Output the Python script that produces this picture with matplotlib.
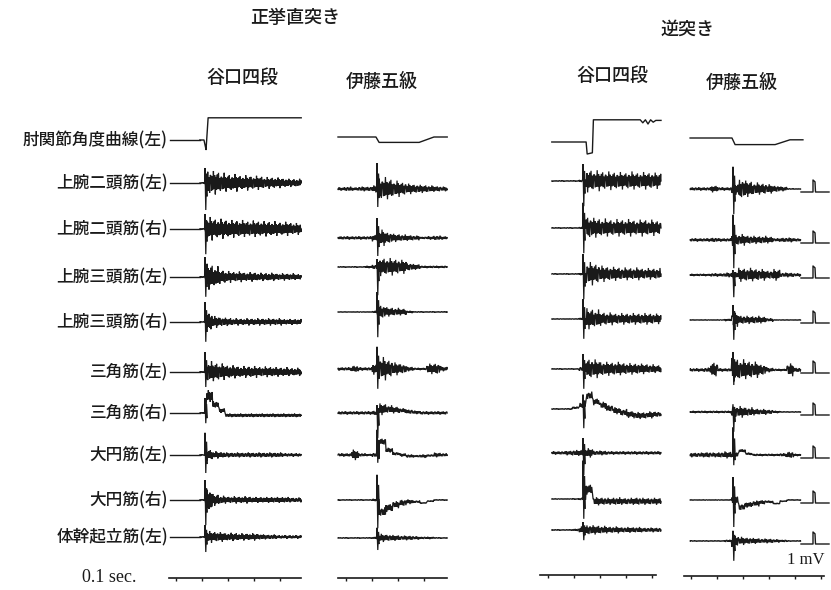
import numpy as np
import matplotlib.pyplot as plt

plt.rcParams['font.family'] = ['Noto Sans CJK JP', 'DejaVu Sans']

# ---- record contents ----
techniques = ['正挙直突き', '逆突き']
subjects = ['谷口四段', '伊藤五級', '谷口四段', '伊藤五級']
angle_label = '肘関節角度曲線(左)'
muscles = ['上腕二頭筋(左)', '上腕二頭筋(右)', '上腕三頭筋(左)', '上腕三頭筋(右)',
           '三角筋(左)', '三角筋(右)', '大円筋(左)', '大円筋(右)', '体幹起立筋(左)']
time_label = '0.1 sec.'
cal_label = '1 mV'

# record window per column, seconds relative to the punch onset
win_t0 = [-0.02, -0.15, -0.12, -0.165]
win_t1 = [0.37, 0.27, 0.30, 0.26]

# elbow angle curve, knots (s, arbitrary units)
angle_t = [
    [-0.02, -0.004, 0.0, 0.004, 0.012, 0.37],
    [-0.15, -0.004, 0.008, 0.162, 0.219, 0.27],
    [-0.12, 0.012, 0.016, 0.036, 0.040, 0.22, 0.23, 0.24, 0.25, 0.26, 0.27, 0.28, 0.30],
    [-0.165, -0.004, 0.008, 0.162, 0.219, 0.269],
]
angle_v = [
    [0, 0, -0.4, -0.8, 1.85, 1.85],
    [0, 0, -0.45, -0.45, 0, 0],
    [0, 0, -1.0, -0.9, 1.85, 1.85, 1.6, 1.85, 1.5, 1.85, 1.65, 1.8, 1.8],
    [0, 0, -0.55, -0.55, -0.15, -0.15],
]

# EMG envelope (mV), 16 equal bins across each record window, rows = muscles
env_tani_seiken = [
    [0.05, 1.1, 1.0, 0.85, 0.75, 0.75, 0.65, 0.65, 0.6, 0.6, 0.5, 0.5, 0.45, 0.4, 0.35, 0.35],
    [0.05, 1.0, 0.9, 0.85, 0.8, 0.75, 0.75, 0.7, 0.7, 0.7, 0.65, 0.65, 0.6, 0.6, 0.55, 0.5],
    [0.05, 1.1, 0.9, 0.6, 0.5, 0.45, 0.45, 0.4, 0.4, 0.35, 0.35, 0.35, 0.3, 0.3, 0.3, 0.25],
    [0.05, 0.8, 0.5, 0.4, 0.35, 0.3, 0.3, 0.3, 0.3, 0.3, 0.3, 0.3, 0.3, 0.25, 0.25, 0.25],
    [0.05, 0.9, 0.8, 0.7, 0.6, 0.55, 0.5, 0.5, 0.5, 0.45, 0.45, 0.45, 0.4, 0.4, 0.35, 0.35],
    [0.05, 0.5, 0.3, 0.2, 0.15, 0.15, 0.15, 0.15, 0.15, 0.15, 0.15, 0.15, 0.15, 0.15, 0.15, 0.15],
    [0.05, 0.45, 0.3, 0.25, 0.2, 0.2, 0.2, 0.2, 0.2, 0.2, 0.2, 0.2, 0.2, 0.15, 0.15, 0.15],
    [0.05, 1.0, 0.5, 0.35, 0.3, 0.3, 0.3, 0.3, 0.25, 0.25, 0.25, 0.25, 0.25, 0.25, 0.2, 0.2],
    [0.05, 0.5, 0.45, 0.4, 0.35, 0.35, 0.3, 0.3, 0.3, 0.25, 0.2, 0.2, 0.15, 0.15, 0.15, 0.15],
]
env_ito_seiken = [
    [0.15, 0.2, 0.15, 0.2, 0.2, 0.3, 1.0, 0.9, 0.7, 0.6, 0.45, 0.4, 0.35, 0.3, 0.25, 0.2],
    [0.15, 0.15, 0.15, 0.15, 0.15, 0.3, 0.7, 0.5, 0.35, 0.3, 0.25, 0.2, 0.1, 0.15, 0.2, 0.15],
    [0.05, 0.05, 0.05, 0.05, 0.1, 0.2, 0.8, 0.75, 0.7, 0.6, 0.35, 0.25, 0.1, 0.1, 0.1, 0.1],
    [0.03, 0.03, 0.03, 0.03, 0.03, 0.1, 0.6, 0.4, 0.35, 0.3, 0.1, 0.05, 0.05, 0.05, 0.05, 0.05],
    [0.15, 0.15, 0.3, 0.15, 0.15, 0.5, 1.0, 0.8, 0.55, 0.45, 0.2, 0.1, 0.1, 0.45, 0.5, 0.2],
    [0.15, 0.15, 0.15, 0.15, 0.15, 0.2, 0.5, 0.35, 0.3, 0.2, 0.2, 0.15, 0.15, 0.15, 0.15, 0.15],
    [0.15, 0.15, 0.45, 0.15, 0.1, 0.2, 0.3, 0.2, 0.15, 0.15, 0.15, 0.1, 0.15, 0.1, 0.2, 0.15],
    [0.05, 0.05, 0.05, 0.05, 0.05, 0.1, 0.4, 0.35, 0.3, 0.3, 0.2, 0.1, 0.05, 0.05, 0.05, 0.05],
    [0.05, 0.05, 0.05, 0.05, 0.05, 0.1, 0.35, 0.3, 0.25, 0.2, 0.2, 0.15, 0.1, 0.1, 0.05, 0.05],
]
env_tani_gyaku = [
    [0.05, 0.05, 0.05, 0.05, 0.1, 1.0, 0.9, 0.85, 0.8, 0.8, 0.75, 0.8, 0.75, 0.75, 0.75, 0.7],
    [0.05, 0.05, 0.05, 0.05, 0.1, 1.0, 0.85, 0.8, 0.75, 0.75, 0.75, 0.75, 0.7, 0.75, 0.7, 0.65],
    [0.05, 0.05, 0.05, 0.05, 0.1, 1.0, 0.9, 0.7, 0.65, 0.6, 0.55, 0.55, 0.55, 0.5, 0.5, 0.5],
    [0.03, 0.03, 0.03, 0.03, 0.1, 0.9, 0.8, 0.6, 0.55, 0.5, 0.5, 0.5, 0.5, 0.5, 0.5, 0.45],
    [0.05, 0.05, 0.05, 0.05, 0.2, 0.9, 0.8, 0.65, 0.6, 0.6, 0.55, 0.5, 0.5, 0.45, 0.4, 0.35],
    [0.05, 0.05, 0.05, 0.1, 0.2, 0.35, 0.3, 0.3, 0.3, 0.3, 0.3, 0.3, 0.3, 0.3, 0.3, 0.25],
    [0.15, 0.15, 0.2, 0.25, 0.3, 0.4, 0.2, 0.2, 0.15, 0.15, 0.15, 0.15, 0.15, 0.15, 0.15, 0.15],
    [0.03, 0.03, 0.03, 0.05, 0.1, 0.45, 0.35, 0.35, 0.3, 0.35, 0.3, 0.3, 0.35, 0.3, 0.3, 0.3],
    [0.05, 0.05, 0.05, 0.1, 0.3, 0.45, 0.4, 0.35, 0.3, 0.3, 0.25, 0.25, 0.25, 0.2, 0.2, 0.2],
]
env_ito_gyaku = [
    [0.15, 0.15, 0.15, 0.3, 0.15, 0.15, 0.5, 0.9, 0.7, 0.55, 0.5, 0.4, 0.3, 0.2, 0.05, 0.03],
    [0.15, 0.15, 0.15, 0.2, 0.15, 0.15, 0.5, 0.5, 0.4, 0.35, 0.35, 0.3, 0.15, 0.2, 0.2, 0.15],
    [0.1, 0.1, 0.1, 0.15, 0.15, 0.2, 0.3, 0.6, 0.6, 0.55, 0.5, 0.4, 0.5, 0.2, 0.2, 0.15],
    [0.03, 0.03, 0.03, 0.03, 0.03, 0.1, 0.6, 0.4, 0.35, 0.35, 0.3, 0.15, 0.03, 0.03, 0.03, 0.03],
    [0.15, 0.15, 0.2, 0.7, 0.15, 0.15, 1.0, 0.9, 0.8, 0.7, 0.5, 0.2, 0.1, 0.1, 0.55, 0.2],
    [0.1, 0.1, 0.1, 0.1, 0.1, 0.1, 0.5, 0.5, 0.4, 0.3, 0.25, 0.2, 0.1, 0.05, 0.05, 0.05],
    [0.2, 0.2, 0.25, 0.2, 0.25, 0.3, 0.2, 0.15, 0.1, 0.1, 0.1, 0.1, 0.1, 0.15, 0.3, 0.1],
    [0.03, 0.03, 0.03, 0.03, 0.03, 0.05, 0.4, 0.3, 0.25, 0.25, 0.2, 0.1, 0.05, 0.05, 0.05, 0.05],
    [0.05, 0.05, 0.05, 0.05, 0.05, 0.1, 0.5, 0.35, 0.3, 0.25, 0.2, 0.2, 0.15, 0.1, 0.05, 0.05],
]
emg_env = [env_tani_seiken, env_ito_seiken, env_tani_gyaku, env_ito_gyaku]

# onset discharge (mV), upward / downward, per muscle, columns in the same order
onset_up = [
    [1.25, 2.15, 1.4, 1.85],
    [1.25, 1.65, 2.1, 2.1],
    [1.65, 0.65, 1.65, 0.4],
    [1.65, 1.65, 1.65, 1.25],
    [1.65, 1.85, 1.25, 1.5],
    [1.25, 0.65, 1.2, 0.65],
    [1.85, 2.1, 1.25, 2.3],
    [1.65, 2.1, 3.2, 1.9],
    [1.0, 0.85, 0.65, 0.85],
]
onset_dn = [
    [2.25, 1.5, 2.1, 2.1],
    [2.1, 1.5, 2.1, 2.35],
    [1.65, 2.35, 2.1, 1.85],
    [1.65, 2.1, 1.65, 1.65],
    [1.25, 1.65, 1.65, 1.25],
    [0.85, 2.1, 1.6, 1.65],
    [1.5, 0.65, 1.85, 0.85],
    [2.1, 2.35, 1.65, 2.25],
    [1.25, 1.0, 0.85, 1.65],
]

# slow baseline shift (mV) for the records that have one, keyed (muscle, column)
drift = {
    (5, 0): [0, 1.4, 0.7, 0.2, -0.2, -0.2, -0.2, -0.2, -0.2, -0.2, -0.2, -0.2, -0.2, -0.2, -0.2, -0.2],
    (5, 1): [0, 0, 0, 0, 0, 0, 0.3, 0.3, 0.25, 0.2, 0.1, 0.05, 0, 0, 0, 0],
    (5, 2): [0, 0, 0, 0.1, 0.3, 1.1, 0.6, 0.3, 0.05, -0.15, -0.3, -0.45, -0.55, -0.55, -0.5, -0.45],
    (6, 1): [0, 0, 0, 0, 0, 0, 1.1, 0.4, 0.1, 0, -0.1, -0.1, -0.1, -0.05, 0, 0],
    (6, 3): [0, 0, 0, 0, 0, 0, 0, 0.35, 0.1, 0, 0, 0, 0, 0, 0, 0],
    (7, 1): [0, 0, 0, 0, 0, 0, -1.0, -0.65, -0.4, -0.25, -0.15, -0.15, -0.25, -0.1, 0, 0],
    (7, 2): [0, 0, 0, 0, 0, 0.8, -0.2, -0.2, -0.2, -0.2, -0.2, -0.2, -0.2, -0.2, -0.2, -0.2],
    (7, 3): [0, 0, 0, 0, 0, 0, 0, -0.6, -0.4, -0.3, -0.2, -0.15, -0.3, -0.1, 0, 0],
}

# time marker span per column (s) and marker step
mark_t0 = [-0.14, -0.15, -0.165, -0.19]
mark_t1 = [0.37, 0.27, 0.28, 0.35]
mark_step = 0.1

# ---- layout (pixels) ----
W, H = 831, 590
PX_S = 260      # px per second
PX_MV = 12      # px per mV
onset_x = [205, 377, 583, 733]
angle_y = [140, 137, 142, 138]
row_y = [
    [183, 189, 181, 189],
    [229, 238, 228, 240],
    [277, 267, 274, 275],
    [322, 312, 319, 320],
    [372, 369, 369, 370],
    [413, 413, 409, 412],
    [455, 455, 453, 455],
    [500, 500, 499, 500],
    [537, 538, 530, 541],
]
mark_y = [578, 578, 575, 576]
label_x = 168
ink = '#1a1a1a'

# spike heights used to fill each envelope bin: dense core, sparse tall spikes
pattern = [0.55, -0.6, 0.5, -0.55, 1.0, -0.5, 0.65, -0.95, 0.5, -0.55,
           0.7, -0.5, 0.85, -0.6, 0.45, -0.75, 0.6]
N_SUB = 10

fig = plt.figure(figsize=(W / 100, H / 100), dpi=100)
ax = fig.add_axes([0, 0, 1, 1])
ax.set_xlim(0, W)
ax.set_ylim(H, 0)
ax.axis('off')


def to_px(col, t, v, y0):
    return onset_x[col] + np.asarray(t) * PX_S, y0 - np.asarray(v) * PX_MV


def emg(col, row):
    env = emg_env[col][row]
    lev = drift.get((row, col), [0] * len(env))
    t0, t1 = win_t0[col], win_t1[col]
    w = (t1 - t0) / len(env)
    ts, vs = [t0], [lev[0]]
    c = row * 5 + col * 3
    for i, a in enumerate(env):
        for k in range(N_SUB):
            ts.append(t0 + (i + (k + 0.5) / N_SUB) * w)
            vs.append(lev[i] + a * pattern[c % len(pattern)])
            c += 1
    ts.append(t1)
    vs.append(lev[-1])
    ts, vs = np.array(ts), np.array(vs)
    j = np.searchsorted(ts, 0.0)
    up, dn = onset_up[row][col], onset_dn[row][col]
    ts = np.insert(ts, j, [0.0, 0.003, 0.006, 0.009])
    vs = np.insert(vs, j, [up, -dn, 0.6 * up, -0.5 * dn])
    x, y = to_px(col, ts, vs, row_y[row][col])
    ax.plot(x, y, color=ink, lw=0.9, solid_joinstyle='miter')


txt = dict(color=ink, fontweight='medium')

# headings
ax.text(295, 18, techniques[0], ha='center', va='center', fontsize=13, **txt)
ax.text(688, 30, techniques[1], ha='center', va='center', fontsize=13, **txt)
for x, y, s in zip([242, 382, 612, 742], [78, 82, 76, 83], subjects):
    ax.text(x, y, s, ha='center', va='center', fontsize=13, **txt)

# row labels with leader to the first record
ax.text(label_x, angle_y[0], angle_label, ha='right', va='center', fontsize=12, **txt)
ax.plot([label_x + 2, onset_x[0] + win_t0[0] * PX_S], [angle_y[0]] * 2, color=ink, lw=1.0)
for r, name in enumerate(muscles):
    ax.text(label_x, row_y[r][0], name, ha='right', va='center', fontsize=12, **txt)
    ax.plot([label_x + 2, onset_x[0] + win_t0[0] * PX_S], [row_y[r][0]] * 2, color=ink, lw=1.0)

# elbow angle
for c in range(4):
    x, y = to_px(c, angle_t[c], angle_v[c], angle_y[c])
    ax.plot(x, y, color=ink, lw=1.0)

# EMG records
for c in range(4):
    for r in range(len(muscles)):
        emg(c, r)

# 1 mV calibration pulses at the right of the last column
for r in range(len(muscles)):
    y0 = row_y[r][3] + 3
    ax.plot([801, 813, 813, 815, 815.5, 829], [y0, y0, y0 - PX_MV, y0 - PX_MV * 0.85, y0, y0],
            color=ink, lw=1.0)
ax.text(806, 560, cal_label, ha='center', va='center', fontsize=12,
        family='Liberation Serif', color=ink)

# 0.1 s time marker
ax.text(136, 578, time_label, ha='right', va='center', fontsize=13,
        family='Liberation Serif', color=ink)
for c in range(4):
    x, y = to_px(c, [mark_t0[c], mark_t1[c]], [0, 0], mark_y[c])
    ax.plot(x, y, color=ink, lw=1.2)
    ticks = np.arange(mark_t0[c] + 0.03, mark_t1[c], mark_step)
    tx = onset_x[c] + ticks * PX_S
    ax.vlines(tx, mark_y[c], mark_y[c] + 3, color=ink, lw=1.0)

fig.savefig('out.png', dpi=100, facecolor='white')
